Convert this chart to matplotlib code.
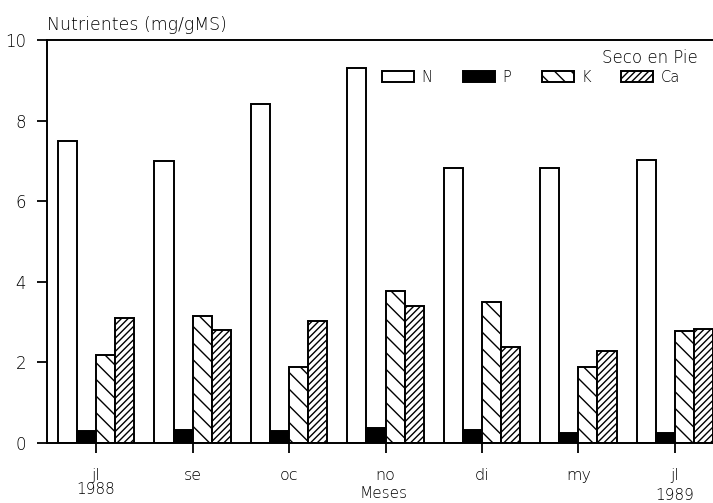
import matplotlib
matplotlib.use("Agg")
import matplotlib.pyplot as plt
import numpy as np

months = ["jl", "se", "oc", "no", "di", "my", "jl"]
N = [7.5, 7.0, 8.4, 9.3, 6.82, 6.82, 7.02]
P = [0.29, 0.32, 0.29, 0.38, 0.32, 0.26, 0.26]
K = [2.18, 3.16, 1.89, 3.78, 3.49, 1.89, 2.77]
Ca = [3.09, 2.80, 3.03, 3.39, 2.39, 2.29, 2.84]
series_names = ["N", "P", "K", "Ca"]
yticks = [0, 2, 4, 6, 8, 10]

plt.rcParams['font.family'] = ['DejaVu Sans']
plt.rcParams['hatch.linewidth'] = 1.0

fig = plt.figure(figsize=(7.13, 5.03), dpi=100)
ax = fig.add_axes([47/713, 1-443/503, 1-47/713, 403/503])

x = np.arange(len(months))
w = 0.197
styles = [dict(facecolor="white", hatch=None),
          dict(facecolor="black", hatch=None),
          dict(facecolor="white", hatch="\\\\"),
          dict(facecolor="white", hatch="/////")]
handles = []
for j, (vals, st) in enumerate(zip([N, P, K, Ca], styles)):
    b = ax.bar(x + (j - 1.5) * w, vals, width=w, edgecolor="black",
               linewidth=1.4, label=series_names[j], **st)
    handles.append(b)

ax.set_xlim(-0.508, 6.394)
ax.set_ylim(0, 10)
ax.set_yticks(yticks)
ax.set_yticklabels([str(t) for t in yticks])
ax.set_xticks(x)
ax.set_xticklabels(months)
ax.spines['right'].set_visible(False)
for s in ['left', 'bottom', 'top']:
    ax.spines[s].set_linewidth(1.4)
ax.tick_params(axis='y', direction='out', length=7, width=1.3, pad=8, labelsize=12)
ax.tick_params(axis='x', direction='out', length=7, width=1.3, pad=11, labelsize=11.5)

for lab in ax.get_xticklabels() + ax.get_yticklabels():
    lab.set_fontweight('light')

fig.text(47/713, 1-25/503, "Nutrientes (mg/gMS)", ha="left", va="center",
         fontsize=12.5, fontweight='light')
fig.text(698/713, 1-58/503, "Seco en Pie", ha="right", va="center",
         fontsize=12, fontweight='light')
fig.text(96/713, 1-489/503, "1988", ha="center", va="center", fontsize=11, fontweight='light')
fig.text(384/713, 1-494/503, "Meses", ha="center", va="center", fontsize=11, fontweight='light')
fig.text(675/713, 1-496/503, "1989", ha="center", va="center", fontsize=11, fontweight='light')

leg = ax.legend(handles=handles, labels=series_names, ncol=4, frameon=False,
                loc="center left", fontsize=10.5,
                handlelength=2.2, handleheight=0.75, handletextpad=0.5,
                columnspacing=2.1, borderpad=0, borderaxespad=0)
leg.set_bbox_to_anchor(((382-47)/(713-47), (443-77)/403), transform=ax.transAxes)
for t in leg.get_texts():
    t.set_fontweight('light')

fig.savefig("out.png", dpi=100)
